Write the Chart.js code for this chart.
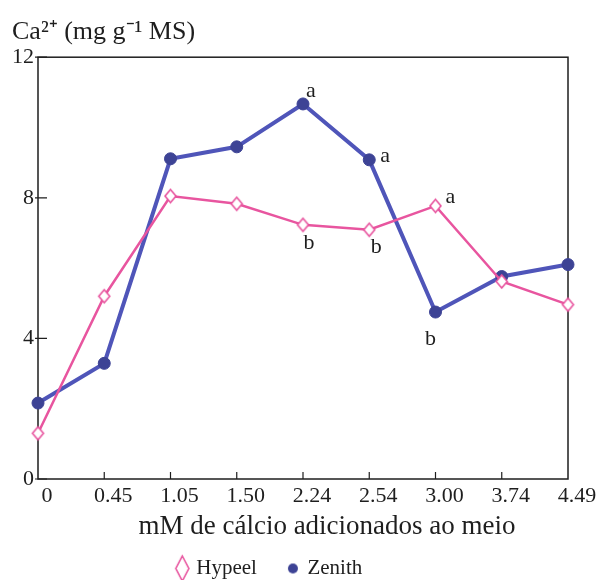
<!DOCTYPE html>
<html>
<head>
<meta charset="utf-8">
<script src="https://cdn.jsdelivr.net/npm/chart.js@4.4.0/dist/chart.umd.min.js"></script>
<style>
html, body { margin: 0; padding: 0; background: #fff; }
</style>
</head>
<body>
<canvas id="mycanvas" width="598" height="580"></canvas>
<script>
// data
var doses = ['0', '0.45', '1.05', '1.50', '2.24', '2.54', '3.00', '3.74', '4.49'];
var hypeel = [1.3, 5.2, 8.05, 7.83, 7.23, 7.09, 7.77, 5.62, 4.96];
var zenith = [2.16, 3.29, 9.11, 9.45, 10.67, 9.08, 4.75, 5.76, 6.1];
var hypeelLetters = ['', '', '', '', 'b', 'b', 'a', '', ''];
var zenithLetters = ['', '', '', '', 'a', 'a', 'b', '', ''];
var yTicks = [0, 4, 8, 12];
var xTitle = 'mM de cálcio adicionados ao meio';

var PINK = '#e8559f';
var BLUE = '#4f55b9';
var DOT = '#3d4395';
var INK = '#1e1e1e';
var SERIF = "'Liberation Serif', 'Times New Roman', serif";

// tall open diamond, drawn off-centre by dx inside its canvas
function makeDiamond(w, h, dx) {
	var c = document.createElement('canvas');
	c.width = Math.ceil(2 * (Math.abs(dx) + w / 2 + 2));
	c.height = Math.ceil(h + 4);
	var g = c.getContext('2d');
	var cx = c.width / 2 + dx, cy = c.height / 2;
	g.beginPath();
	g.moveTo(cx, cy - h / 2);
	g.lineTo(cx + w / 2, cy);
	g.lineTo(cx, cy + h / 2);
	g.lineTo(cx - w / 2, cy);
	g.closePath();
	g.fillStyle = '#fff';
	g.fill();
	g.lineWidth = 1.6;
	g.strokeStyle = PINK;
	g.stroke();
	return c;
}

function makeDot(r, dx) {
	var c = document.createElement('canvas');
	c.width = Math.ceil(2 * (Math.abs(dx) + r + 1));
	c.height = Math.ceil(2 * r + 2);
	var g = c.getContext('2d');
	g.beginPath();
	g.arc(c.width / 2 + dx, c.height / 2, r, 0, Math.PI * 2);
	g.fillStyle = DOT;
	g.fill();
	return c;
}

var pointDiamond = makeDiamond(11, 13, 0);
var legendDiamond = makeDiamond(13, 25, 13.5);
var legendDot = makeDot(5, 13);

var decor = {
	id: 'decor',
	afterLayout: function(chart) {
		var lg = chart.legend;
		lg.left -= 33; lg.right -= 33;
		lg.top += 9; lg.bottom += 9;
	},
	beforeDatasetsDraw: function(chart) {
		var ctx = chart.ctx, a = chart.chartArea;
		var xs = chart.scales.x, ys = chart.scales.y;
		ctx.save();
		ctx.strokeStyle = INK;
		ctx.lineWidth = 1.5;
		ctx.strokeRect(a.left, a.top, a.right - a.left, a.bottom - a.top);
		ctx.lineWidth = 1.2;
		ctx.beginPath();
		for (var i = 1; i < doses.length - 1; i++) {
			var x = xs.getPixelForTick(i);
			ctx.moveTo(x, a.bottom);
			ctx.lineTo(x, a.bottom - 7);
		}
		for (var j = 0; j < yTicks.length; j++) {
			var y = ys.getPixelForValue(yTicks[j]);
			ctx.moveTo(a.left - 3, y);
			ctx.lineTo(a.left + 9, y);
		}
		ctx.stroke();

		// axis title sits a little right of the plot centre in the original
		ctx.font = '27px ' + SERIF;
		ctx.fillStyle = INK;
		ctx.textAlign = 'center';
		ctx.textBaseline = 'middle';
		ctx.fillText(xTitle, (a.left + a.right) / 2 + 24, a.bottom + 48);
		ctx.restore();
	},
	afterDatasetsDraw: function(chart) {
		var ctx = chart.ctx;
		var sets = [
			{ letters: hypeelLetters, meta: chart.getDatasetMeta(0), off: { 4: [6, 18], 5: [7, 17], 6: [15, -9] } },
			{ letters: zenithLetters, meta: chart.getDatasetMeta(1), off: { 4: [8, -13], 5: [16, -4], 6: [-5, 27] } }
		];
		ctx.save();
		ctx.font = '22px ' + SERIF;
		ctx.fillStyle = INK;
		ctx.textAlign = 'center';
		ctx.textBaseline = 'middle';
		sets.forEach(function(s) {
			s.letters.forEach(function(t, i) {
				if (!t) return;
				var p = s.meta.data[i];
				var o = s.off[i] || [0, -14];
				ctx.fillText(t, p.x + o[0], p.y + o[1]);
			});
		});
		ctx.restore();
	}
};

var ctx = document.getElementById('mycanvas');

var LineGraph = new Chart(ctx, {
	type: 'line',
	data: {
		labels: doses,
		datasets: [
			{
				label: 'Hypeel',
				data: hypeel,
				borderColor: PINK,
				backgroundColor: PINK,
				borderWidth: 2.5,
				lineTension: 0,
				fill: false,
				pointStyle: pointDiamond,
				clip: false
			},
			{
				label: 'Zenith',
				data: zenith,
				borderColor: BLUE,
				backgroundColor: DOT,
				pointBackgroundColor: DOT,
				pointBorderColor: DOT,
				pointBorderWidth: 1,
				borderWidth: 4,
				lineTension: 0,
				fill: false,
				pointStyle: 'circle',
				pointRadius: 6,
				clip: false
			}
		]
	},
	options: {
		responsive: false,
		animation: false,
		events: [],
		devicePixelRatio: 1,
		layout: { padding: { left: 12, right: 30, top: 0, bottom: 0 } },
		plugins: {
			tooltip: { enabled: false },
			title: {
				display: true,
				text: 'Ca²⁺ (mg g⁻¹ MS)',
				align: 'start',
				color: INK,
				font: { family: SERIF, size: 26, weight: 'normal' },
				padding: { top: 17, bottom: 9 }
			},
			legend: {
				position: 'bottom',
				labels: {
					usePointStyle: true,
					pointStyleWidth: 34,
					padding: 6,
					color: INK,
					font: { family: SERIF, size: 21 },
					generateLabels: function(chart) {
						var items = Chart.defaults.plugins.legend.labels.generateLabels(chart);
						items[0].pointStyle = legendDiamond;
						items[1].pointStyle = legendDot;
						return items;
					}
				}
			}
		},
		scales: {
			x: {
				offset: false,
				grid: { display: false, drawTicks: false },
				border: { display: false },
				ticks: {
					color: INK,
					font: { family: SERIF, size: 22 },
					labelOffset: 9,
					padding: 4,
					autoSkip: false,
					maxRotation: 0
				},
				title: { display: false },
				afterFit: function(s) { s.height = 64; }
			},
			y: {
				min: 0,
				max: 12,
				grid: { display: false, drawTicks: false },
				border: { display: false },
				ticks: {
					color: INK,
					font: { family: SERIF, size: 22 },
					padding: 4
				},
				afterBuildTicks: function(s) {
					s.ticks = yTicks.map(function(v) { return { value: v }; });
				},
				afterFit: function(s) { s.width = 26; }
			}
		}
	},
	plugins: [decor]
});
</script>
</body>
</html>
